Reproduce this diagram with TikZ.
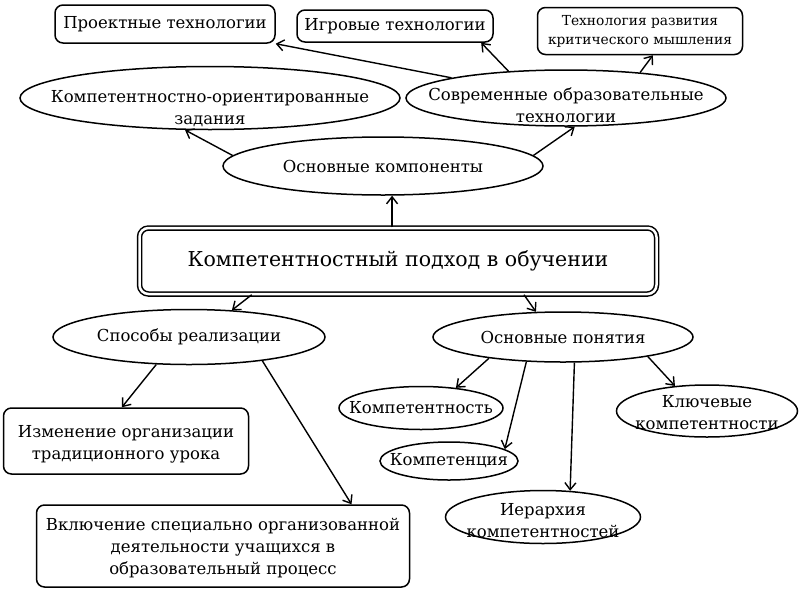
\documentclass[tikz,border=0pt]{standalone}
\usepackage{fontspec}
\setmainfont{DejaVu Serif}
\usetikzlibrary{shapes.geometric,arrows.meta}

\begin{document}
\begin{tikzpicture}[
      x=1pt, y=-1pt,
      every node/.style={align=center, font=\fontsize{16.5}{22}\selectfont},
      tbox/.style={draw, rectangle, rounded corners=8pt, line width=1.5pt, inner sep=0pt},
      oval/.style={draw, ellipse, line width=1.5pt, inner sep=-60pt}, % size from minimum width/height only
      mainbox/.style={draw, rectangle, rounded corners=9pt, double, double distance=2.5pt, line width=1.5pt,
                      inner sep=0pt, minimum width=517pt, minimum height=66pt, font=\fontsize{20.5}{24}\selectfont},
      arr/.style={line width=1.4pt, -{Straight Barb[length=7pt,width=11pt]}}
    ]
    \useasboundingbox (0,0) rectangle (800,600);
    % central node
    \node [mainbox] (podhod) at (398,261) {Компетентностный подход в обучении};
    % upper part
    \node [oval, minimum width=320pt, minimum height=58pt] (komp) at (383,166) {Основные компоненты};
    \node [oval, minimum width=380pt, minimum height=63pt, text height=55pt] (zadaniya) at (210,98) {Компетентностно-ориентированные\\задания};
    \node [oval, minimum width=320pt, minimum height=56pt, text height=50pt] (sovr) at (566,98) {Современные образовательные\\технологии};
    \node [tbox, minimum width=220pt, minimum height=38pt] (proekt) at (165,24) {Проектные технологии};
    \node [tbox, minimum width=196pt, minimum height=32pt] (igra) at (395,26) {Игровые технологии};
    \node [tbox, minimum width=205pt, minimum height=47pt, font=\fontsize{13.8}{19}\selectfont] (kritik) at (640,31) {Технология развития\\критического мышления};
    % left branch
    \node [oval, minimum width=272pt, minimum height=55pt] (sposob) at (189,337) {Способы реализации};
    \node [tbox, minimum width=245pt, minimum height=66pt, text height=40pt] (izmen) at (126,441) {Изменение организации\\традиционного урока};
    \node [tbox, minimum width=373pt, minimum height=82pt, text height=60pt] (vkl) at (223,546) {Включение специально организованной\\деятельности учащихся в\\образовательный процесс};
    % right branch
    \node [oval, minimum width=260pt, minimum height=50pt] (ponyat) at (563,337) {Основные понятия};
    \node [oval, minimum width=164pt, minimum height=43pt] (kompetentnost) at (421,408) {Компетентность};
    \node [oval, minimum width=138pt, minimum height=38pt] (kompetenc) at (449,461) {Компетенция};
    \node [oval, minimum width=195pt, minimum height=53pt, text height=42pt] (ierarh) at (543,517) {Иерархия\\компетентностей};
    \node [oval, minimum width=181pt, minimum height=52pt, text height=38pt] (klyuch) at (707,411) {Ключевые\\компетентности};

    % connectors
    \draw [arr] (podhod.north -| komp.-73) -- (komp.-73);
    \draw [arr] (komp.176) -- (zadaniya.-128);
    \draw [arr] (komp.4) -- (sovr.-73);
    \draw [arr] (sovr.170) -- (proekt.south east);
    \draw [arr] (sovr.155) -- (igra.-11);
    \draw [arr] (sovr.19) -- (kritik.-62);
    \draw [arr] (podhod.-167) -- (sposob.32);
    \draw [arr] (podhod.-15) -- (ponyat.137);
    \draw [arr] (sposob.-140) -- (izmen.97);
    \draw [arr] (sposob.-18) -- (vkl.18);
    \draw [arr] (ponyat.196) -- (kompetentnost.30);
    \draw [arr] (ponyat.214) -- (kompetenc.12);
    \draw [arr] (ponyat.-66) -- (ierarh.44);
    \draw [arr] (ponyat.-13) -- (klyuch.142);
\end{tikzpicture}
\end{document}
